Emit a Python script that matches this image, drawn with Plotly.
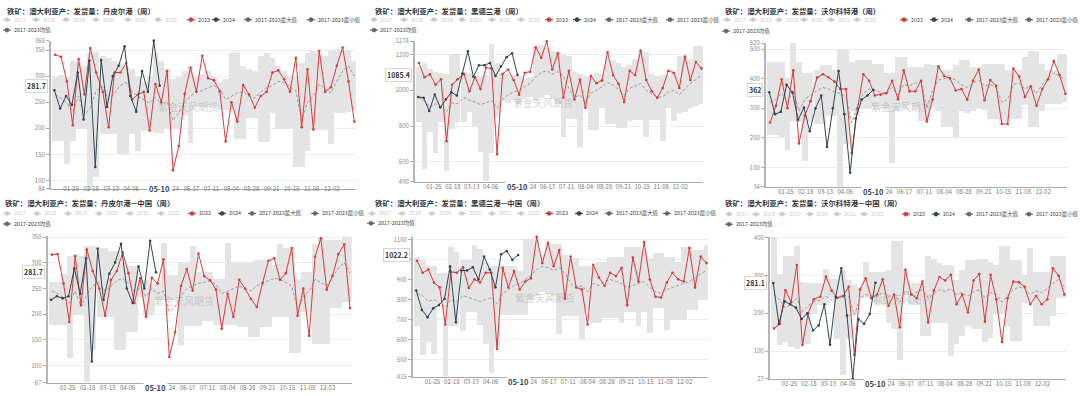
import math
import plotly.graph_objects as go

W, H = 1080, 396
FONT = "Noto Sans CJK SC"
RED = "#d23c3c"
NAVY = "#2f4554"
MEAN_C = "#9b9b9b"
BAND_C = "#e4e4e4"
INACTIVE = "#cccccc"
WEEK_MS = 7 * 24 * 3600 * 1000

# ---------------- categories ----------------
dates_2023 = ["01-06", "01-13", "01-20", "01-27", "02-03", "02-10", "02-17", "02-24", "03-03", "03-10",
              "03-17", "03-24", "03-31", "04-07", "04-14", "04-21", "04-28", "05-05", "05-12", "05-19",
              "05-26", "06-02", "06-09", "06-16", "06-23", "06-30", "07-07", "07-14", "07-21", "07-28",
              "08-04", "08-11", "08-18", "08-25", "09-01", "09-08", "09-15", "09-22", "09-29", "10-06",
              "10-13", "10-20", "10-27", "11-03", "11-10", "11-17", "11-24", "12-01", "12-08", "12-15",
              "12-22", "12-29"]
dates_2024 = ["01-05", "01-12", "01-19", "01-26", "02-02", "02-09", "02-16", "02-23", "03-01", "03-08",
              "03-15", "03-22", "03-29", "04-05", "04-12", "04-19", "04-26", "05-03", "05-10"]
x_tick_labels = ["01-25", "02-18", "03-13", "04-06", "05-24", "06-17", "07-11", "08-04", "08-28",
                 "09-21", "10-15", "11-08", "12-02"]
pointer_date = "05-10"

legend_names = ["2017", "2018", "2019", "2020", "2021", "2022", "2023", "2024",
                "2017-2023最大值", "2017-2023最小值", "2017-2023均值"]

titles = ["铁矿：澳大利亚产：发货量：丹皮尔港（周）",
          "铁矿：澳大利亚产：发货量：黑德兰港（周）",
          "铁矿：澳大利亚产：发货量：沃尔科特港（周）",
          "铁矿：澳大利亚产：发货量：丹皮尔港—中国（周）",
          "铁矿：澳大利亚产：发货量：黑德兰港—中国（周）",
          "铁矿：澳大利亚产：发货量：沃尔科特港—中国（周）"]
watermark = "紫金天风期货"

# ---------------- panel 1: 丹皮尔港 ----------------
p1_2023 = [341, 337, 290, 206, 333, 265, 354, 307, 270, 202, 307, 307, 325, 255, 265, 270, 196, 285, 250, 310,
           120, 166, 266, 316, 270, 339, 296, 292, 271, 175, 250, 213, 283, 265, 240, 262, 270, 307, 311, 294,
           270, 335, 202, 313, 198, 348, 270, 279, 320, 355, 290, 213]
p1_2024 = [273, 238, 262, 245, 307, 217, 330, 126, 331, 241, 300, 320, 357, 262, 232, 310, 270, 368, 281.7]
p1_mean = [265, 258, 248, 232, 262, 225, 240, 272, 280, 255, 268, 282, 288, 270, 262, 255, 248, 260, 245, 252,
           215, 230, 250, 262, 270, 272, 278, 282, 275, 255, 262, 268, 270, 262, 258, 270, 278, 282, 290, 288,
           280, 272, 215, 250, 262, 285, 275, 268, 290, 310, 320, 300]
p1_max = [300, 302, 300, 330, 328, 320, 345, 346, 340, 335, 330, 325, 320, 315, 300, 290, 300, 345, 330, 315,
          295, 300, 310, 320, 300, 305, 310, 300, 290, 295, 345, 347, 320, 315, 310, 340, 345, 335, 320, 310,
          300, 300, 325, 345, 348, 345, 340, 350, 352, 350, 348, 330]
p1_min = [176, 176, 133, 176, 200, 200, 84, 107, 189, 189, 189, 151, 151, 189, 157, 195, 195, 192, 192, 200,
          200, 200, 226, 172, 241, 241, 241, 241, 235, 235, 235, 180, 180, 220, 220, 174, 174, 230, 200, 200,
          200, 126, 126, 157, 198, 198, 198, 171, 230, 230, 232, 235]

# ---------------- panel 2: 黑德兰港 ----------------
p2_2023 = [1153, 1073, 1089, 1031, 1062, 716, 1031, 1062, 1091, 995, 1073, 1007, 1127, 1122, 643, 1091, 1116,
           1058, 976, 1098, 1104, 1240, 1182, 1274, 1116, 1207, 960, 1109, 949, 1060, 903, 1080, 1040, 1055,
           1213, 1085, 1036, 935, 1109, 1085, 1222, 1058, 995, 958, 1013, 1109, 1098, 1013, 1189, 1058, 1158,
           1122]
p2_2024 = [963, 958, 885, 976, 905, 950, 989, 971, 1094, 1218, 1076, 1140, 1140, 1153, 1080, 1134, 1185, 1207,
           1085.4]
p2_mean = [960, 940, 905, 925, 910, 880, 930, 925, 960, 945, 935, 920, 930, 945, 900, 950, 975, 990, 1000, 1020,
           1040, 1075, 1100, 1110, 1090, 1105, 1080, 1010, 960, 975, 930, 985, 1000, 1020, 1045, 1030, 1000, 975,
           1010, 1025, 1040, 1000, 980, 960, 965, 990, 1000, 975, 1010, 1040, 1060, 1085]
p2_max = [1130, 1150, 1120, 1100, 1095, 1090, 1200, 1200, 1100, 1095, 1085, 1080, 1085, 1260, 1150, 1095, 1090,
          1085, 1080, 1070, 1075, 1240, 1250, 1235, 1220, 1215, 1200, 1190, 1100, 1090, 1080, 1080, 1095, 1090,
          1180, 1170, 1150, 1130, 1140, 1175, 1220, 1210, 1090, 1080, 1085, 1080, 1095, 1190, 1185, 1175, 1245,
          1245]
p2_min = [821, 560, 767, 649, 820, 549, 780, 821, 821, 876, 800, 653, 490, 649, 850, 940, 930, 945, 925, 950,
          960, 940, 955, 975, 950, 920, 740, 840, 840, 685, 900, 778, 778, 900, 810, 810, 790, 790, 825, 832,
          832, 740, 832, 832, 716, 900, 825, 870, 880, 900, 910, 920]

# ---------------- panel 3: 沃尔科特港 ----------------
p3_2023 = [252, 308, 398, 300, 428, 181, 275, 324, 404, 415, 404, 390, 365, 365, 148, 300, 415, 393, 343, 346,
           351, 393, 330, 428, 357, 357, 393, 255, 330, 441, 409, 401, 360, 365, 329, 393, 431, 327, 395, 376,
           247, 247, 434, 407, 338, 374, 308, 365, 398, 459, 412, 349]
p3_2024 = [354, 280, 288, 379, 354, 261, 302, 222, 300, 343, 170, 300, 426, 280, 82, 266, 329, 343, 362]
p3_mean = [320, 330, 350, 320, 360, 290, 330, 345, 360, 370, 365, 355, 350, 340, 250, 310, 350, 365, 360, 355,
           350, 370, 345, 380, 375, 385, 390, 300, 360, 395, 400, 405, 395, 380, 370, 385, 395, 375, 380, 370,
           320, 330, 380, 385, 365, 375, 350, 380, 400, 420, 410, 395]
p3_max = [456, 456, 456, 401, 520, 456, 417, 417, 428, 445, 445, 428, 500, 500, 456, 461, 461, 461, 450, 450,
          417, 417, 473, 473, 440, 440, 440, 450, 445, 445, 428, 428, 445, 461, 461, 440, 440, 450, 450, 450,
          450, 428, 428, 428, 473, 494, 494, 450, 428, 428, 483, 483]
p3_min = [208, 208, 203, 159, 252, 252, 120, 252, 247, 247, 275, 275, 34, 180, 290, 275, 300, 300, 305, 300,
          300, 115, 290, 300, 310, 305, 258, 258, 300, 290, 236, 236, 203, 290, 285, 290, 300, 295, 264, 264,
          252, 252, 264, 264, 310, 236, 236, 290, 314, 314, 314, 320]

# ---------------- panel 4: 丹皮尔港—中国 ----------------
p4_2023 = [316, 317, 260, 185, 313, 218, 326, 284, 250, 197, 267, 284, 320, 280, 222, 270, 195, 271, 260, 307,
           117, 165, 255, 288, 246, 318, 274, 266, 248, 172, 240, 195, 267, 250, 230, 214, 261, 304, 309, 267,
           280, 329, 197, 250, 158, 312, 348, 248, 275, 317, 336, 212]
p4_2024 = [228, 235, 231, 235, 289, 240, 309, 108, 328, 228, 279, 301, 337, 250, 222, 293, 250, 343, 281.7]
p4_mean = [245, 240, 232, 222, 245, 215, 238, 255, 262, 245, 255, 265, 270, 260, 245, 250, 235, 250, 240, 245,
           205, 215, 235, 250, 255, 260, 262, 265, 258, 240, 245, 250, 255, 250, 245, 255, 262, 265, 270, 268,
           262, 255, 210, 235, 245, 268, 262, 255, 272, 290, 300, 280]
p4_max = [263, 263, 279, 314, 317, 314, 333, 333, 329, 329, 322, 322, 300, 294, 294, 266, 266, 259, 259, 339,
          276, 276, 301, 301, 333, 282, 282, 282, 269, 269, 339, 301, 301, 301, 301, 305, 305, 305, 295, 336,
          329, 329, 269, 282, 282, 336, 348, 345, 345, 345, 352, 350]
p4_min = [178, 178, 178, 114, 198, 198, 67, 130, 195, 195, 195, 130, 130, 165, 165, 231, 198, 198, 228, 228,
          228, 228, 139, 177, 177, 177, 187, 187, 178, 178, 178, 178, 175, 175, 155, 155, 175, 175, 195, 195,
          195, 124, 124, 205, 205, 142, 142, 142, 211, 211, 224, 224]

# ---------------- panel 5: 黑德兰港—中国 ----------------
p5_2023 = [994, 934, 950, 885, 861, 675, 939, 934, 961, 858, 901, 885, 934, 934, 553, 958, 860, 942, 850, 890,
           906, 1113, 982, 1084, 966, 1047, 804, 1015, 860, 850, 675, 974, 910, 869, 934, 917, 958, 772, 1010,
           890, 1087, 900, 814, 810, 885, 934, 901, 890, 1058, 860, 1015, 982]
p5_2024 = [845, 748, 712, 756, 772, 804, 966, 686, 945, 945, 961, 900, 1015, 950, 861, 1026, 1042, 998, 1022.2]
p5_mean = [830, 820, 790, 800, 780, 760, 800, 790, 820, 810, 800, 790, 800, 810, 780, 830, 850, 870, 880, 900,
           920, 950, 965, 960, 945, 960, 930, 880, 860, 870, 840, 880, 870, 890, 900, 890, 880, 860, 870, 880,
           890, 860, 840, 830, 850, 860, 870, 880, 890, 910, 930, 945]
p5_max = [1015, 999, 966, 966, 934, 934, 1063, 1039, 999, 999, 1071, 1055, 990, 966, 966, 966, 966, 966, 942,
          1104, 1104, 1104, 1023, 1080, 1080, 1080, 1023, 1007, 1007, 966, 966, 966, 990, 990, 1015, 1015, 1015,
          1063, 1063, 1063, 1047, 1007, 1031, 1031, 1015, 1015, 990, 1063, 1063, 1047, 1047, 1075]
p5_min = [667, 521, 586, 529, 790, 415, 667, 667, 643, 740, 740, 675, 578, 432, 562, 724, 724, 724, 724, 724,
          800, 820, 840, 830, 820, 626, 716, 716, 716, 602, 748, 683, 683, 707, 707, 707, 683, 740, 740, 667,
          740, 634, 756, 756, 647, 699, 699, 699, 748, 748, 797, 797]

# ---------------- panel 6: 沃尔科特港—中国 ----------------
p6_2023 = [160, 172, 261, 230, 328, 116, 200, 237, 244, 297, 260, 241, 245, 270, 90, 263, 293, 240, 250, 290,
           220, 250, 163, 315, 250, 240, 284, 176, 260, 296, 287, 302, 224, 250, 202, 287, 304, 178, 302, 237,
           124, 240, 284, 282, 270, 224, 246, 224, 237, 319, 299, 250]
p6_2024 = [280, 172, 232, 224, 215, 185, 200, 155, 168, 224, 117, 244, 319, 194, 27, 185, 172, 198, 281.1]
p6_mean = [250, 235, 215, 225, 240, 205, 220, 230, 235, 245, 235, 240, 250, 245, 195, 240, 250, 245, 245, 255,
           245, 250, 230, 260, 250, 255, 262, 240, 250, 262, 258, 265, 250, 255, 245, 258, 262, 240, 255, 250,
           230, 245, 262, 270, 265, 250, 260, 255, 265, 280, 290, 270]
p6_max = [403, 306, 354, 354, 380, 284, 280, 280, 280, 319, 293, 293, 315, 289, 276, 270, 336, 310, 310, 310,
          315, 393, 393, 319, 280, 280, 280, 354, 345, 335, 328, 328, 289, 315, 341, 341, 345, 345, 336, 328,
          380, 380, 341, 341, 302, 375, 310, 310, 310, 354, 354, 354]
p6_min = [163, 116, 124, 111, 107, 120, 120, 198, 224, 224, 241, 133, 38, 133, 198, 241, 241, 241, 224, 224,
          175, 159, 77, 250, 224, 224, 142, 142, 176, 176, 176, 88, 120, 141, 167, 159, 159, 124, 137, 198,
          198, 167, 128, 128, 228, 228, 167, 167, 167, 193, 241, 241]

# ---------------- layout of the six panels (pixels) ----------------
panels = [
    dict(s23=p1_2023, s24=p1_2024, mean=p1_mean, mx=p1_max, mn=p1_min, dtick=50,
         box=(51, 356, 36.5, 188.2), standoff=-6, title_xy=(5, 6), leg_y=(15, 25.7),
         leg_x=[3, 32, 62, 92, 124, 154, 187, 212, 244, 307], mean_x=3),
    dict(s23=p2_2023, s24=p2_2024, mean=p2_mean, mx=p2_max, mn=p2_min, dtick=200,
         box=(415, 703, 37.1, 180.8), standoff=-1, title_xy=(373, 6), leg_y=(15, 25.7),
         leg_x=[370, 400, 430, 458, 488, 517, 545, 573, 605, 666], mean_x=370),
    dict(s23=p3_2023, s24=p3_2024, mean=p3_mean, mx=p3_max, mn=p3_min, dtick=100,
         box=(766, 1067, 39, 186.2), standoff=-1, title_xy=(723, 6), leg_y=(15, 26.7),
         leg_x=[723, 749, 775, 800, 827, 853, 900, 930, 965, 1025], mean_x=722),
    dict(s23=p4_2023, s24=p4_2024, mean=p4_mean, mx=p4_max, mn=p4_min, dtick=50,
         box=(47.7, 351.7, 236.5, 386.4), standoff=-1, title_xy=(3, 202), leg_y=(213.3, 224),
         leg_x=[3, 33, 64, 95, 126, 157, 188, 218, 248, 311], mean_x=3),
    dict(s23=p5_2023, s24=p5_2024, mean=p5_mean, mx=p5_max, mn=p5_min, dtick=100,
         box=(413, 708, 237.3, 380.2), standoff=-1, title_xy=(373, 202), leg_y=(213.3, 223.3),
         leg_x=[368, 398, 428, 458, 488, 517, 545, 575, 605, 663], mean_x=367),
    dict(s23=p6_2023, s24=p6_2024, mean=p6_mean, mx=p6_max, mn=p6_min, dtick=100,
         box=(770, 1066, 237, 382.4), standoff=-1, title_xy=(723, 202), leg_y=(214, 224.3),
         leg_x=[725, 752, 778, 806, 833, 860, 902, 932, 965, 1025], mean_x=725),
]


def fx(px):
    return px / W


def fy(py):
    return 1 - py / H


def fmt(v):
    if float(v).is_integer():
        return str(int(v))
    return str(v)


legend_colors = [INACTIVE] * 6 + [RED, NAVY, "#666666", "#666666", "#666666"]
legend_text_colors = [INACTIVE] * 6 + ["#444444"] * 5

fig = go.Figure()
annotations = []
shapes = []
layout = dict(width=W, height=H, margin=dict(l=0, r=0, t=0, b=0), autosize=False,
              paper_bgcolor="white", plot_bgcolor="white", showlegend=False,
              font=dict(family=FONT, size=6, color="#666"), bargap=0, barmode="overlay")

x_week = ["2024-" + d for d in dates_2023]
x_2024 = ["2024-" + d for d in dates_2024]
tickvals_x = ["2024-" + d for d in x_tick_labels]

for i, p in enumerate(panels, start=1):
    sfx = "" if i == 1 else str(i)
    xa, ya = "x" + sfx, "y" + sfx
    x0, x1, ytop, ybot = p["box"]

    allv = p["s23"] + p["s24"] + p["mean"] + p["mx"] + p["mn"]
    lo, hi = min(allv), max(allv)
    scale = (ybot - ytop) / (hi - lo)
    d = p["dtick"]
    ticks = [lo]
    v = (math.floor(lo / d) + 1) * d
    last = lo
    while v < hi:
        ticks.append(v)
        last = v
        v += d
    if (hi - last) * scale > 5:
        ticks.append(hi)

    # band (min..max)
    fig.add_trace(go.Bar(x=x_week, y=[a - b for a, b in zip(p["mx"], p["mn"])], base=p["mn"],
                         width=[WEEK_MS] * len(x_week), marker=dict(color=BAND_C, line=dict(width=0)),
                         xaxis=xa, yaxis=ya, hoverinfo="skip"))
    # mean
    fig.add_trace(go.Scatter(x=x_week, y=p["mean"], mode="lines",
                             line=dict(color=MEAN_C, width=1, dash="3px,2px"),
                             xaxis=xa, yaxis=ya, hoverinfo="skip"))
    # 2023
    fig.add_trace(go.Scatter(x=x_week, y=p["s23"], mode="lines+markers",
                             line=dict(color=RED, width=1), marker=dict(size=2.6, color=RED),
                             xaxis=xa, yaxis=ya, cliponaxis=False, hoverinfo="skip"))
    # 2024
    fig.add_trace(go.Scatter(x=x_2024, y=p["s24"], mode="lines+markers",
                             line=dict(color=NAVY, width=1), marker=dict(size=2.6, color=NAVY),
                             xaxis=xa, yaxis=ya, cliponaxis=False, hoverinfo="skip"))

    layout["xaxis" + sfx] = dict(domain=[fx(x0), fx(x1)], anchor=ya, type="date",
                                 range=["2024-01-01", "2024-12-31"],
                                 tickmode="array", tickvals=tickvals_x, ticktext=x_tick_labels,
                                 tickfont=dict(size=6, color="#777"), ticks="",
                                 showline=True, linecolor="#aaa", linewidth=1,
                                 ticklabelstandoff=p["standoff"],
                                 showgrid=False, zeroline=False, fixedrange=True)
    layout["yaxis" + sfx] = dict(domain=[fy(ybot), fy(ytop)], anchor=xa, range=[lo, hi],
                                 tickmode="array", tickvals=ticks, ticktext=[fmt(t) for t in ticks],
                                 tickfont=dict(size=6, color="#888"), ticks="outside", ticklen=3,
                                 tickcolor="#aaa", showline=True, linecolor="#b5b5b5", linewidth=2,
                                 showgrid=True, gridcolor="#ececec", gridwidth=1, zeroline=False,
                                 fixedrange=True)

    # title
    tx, ty = p["title_xy"]
    annotations.append(dict(text="<b>" + titles[i - 1] + "</b>", x=fx(tx), y=fy(ty), xref="paper",
                            yref="paper", xanchor="left", yanchor="middle", showarrow=False,
                            font=dict(size=7.4, color="#333", family=FONT)))

    # legend (hand drawn, compact like the original)
    ry1, ry2 = p["leg_y"]
    positions = [(x, ry1) for x in p["leg_x"]] + [(p["mean_x"], ry2)]
    for k, (ix, ry) in enumerate(positions):
        c = legend_colors[k]
        shapes.append(dict(type="line", xref="paper", yref="paper", x0=fx(ix), x1=fx(ix + 8),
                           y0=fy(ry), y1=fy(ry), line=dict(color=c, width=1.2)))
        r = 2.1
        shapes.append(dict(type="circle", xref="paper", yref="paper", x0=fx(ix + 4 - r),
                           x1=fx(ix + 4 + r), y0=fy(ry + r), y1=fy(ry - r), fillcolor=c,
                           line=dict(color=c, width=0.5)))
        annotations.append(dict(text=legend_names[k], x=fx(ix + 9.5), y=fy(ry), xref="paper",
                                yref="paper", xanchor="left", yanchor="middle", showarrow=False,
                                borderpad=0,
                                font=dict(size=5.4, color=legend_text_colors[k], family=FONT)))

    # watermark
    cx = (x0 + x1) / 2 - 16
    cy = (ytop + ybot) / 2 - 9
    annotations.append(dict(text=watermark, x=fx(cx), y=fy(cy), xref="paper", yref="paper",
                            xanchor="center", yanchor="middle", showarrow=False,
                            font=dict(size=10, color="rgba(150,150,150,0.40)", family=FONT)))

    # axis pointer labels (latest 2024 value / date)
    annotations.append(dict(text="<b>" + fmt(p["s24"][-1]) + "</b>", x=0, xref=xa + " domain",
                            y=p["s24"][-1], yref=ya, xanchor="right", yanchor="middle", xshift=-3,
                            showarrow=False, bgcolor="white", bordercolor="#d5d5d5", borderwidth=1,
                            borderpad=1, font=dict(size=7, color="#333", family=FONT)))
    annotations.append(dict(text="<b>" + pointer_date + "</b>", x="2024-" + pointer_date, xref=xa,
                            y=0, yref=ya + " domain", xanchor="center", yanchor="middle",
                            yshift=-(6 + p["standoff"]),
                            showarrow=False, bgcolor="white", borderpad=1,
                            font=dict(size=7.5, color="#2f4554", family=FONT)))

layout["annotations"] = annotations
layout["shapes"] = shapes
fig.update_layout(**layout)
fig.write_html("out.html", config={"displayModeBar": False})
